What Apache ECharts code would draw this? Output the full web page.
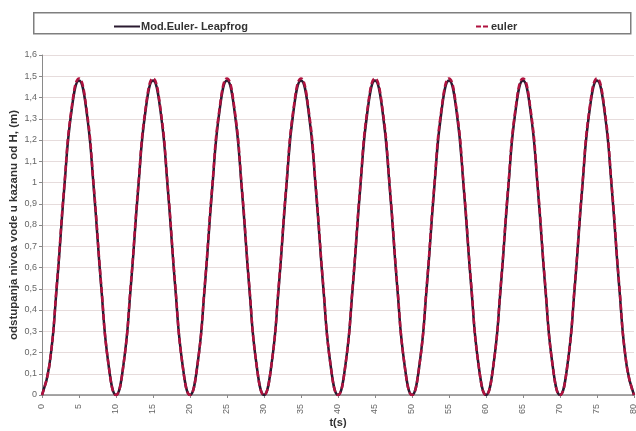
<!DOCTYPE html>
<html>
<head>
<meta charset="utf-8">
<script src="https://cdn.jsdelivr.net/npm/echarts@6/dist/echarts.min.js"></script>
<style>html,body{margin:0;padding:0;background:#fff}#c{width:636px;height:431px}</style>
</head>
<body>
<div id="c"></div>
<script>
var timeS = [0,1,2,3,4,5,6,7,8,9,10,11,12,13,14,15,16,17,18,19,20,21,22,23,24,25,26,27,28,29,30,31,32,33,34,35,36,37,38,39,40,41,42,43,44,45,46,47,48,49,50,51,52,53,54,55,56,57,58,59,60,61,62,63,64,65,66,67,68,69,70,71,72,73,74,75,76,77,78,79,80];
var modEulerLeapfrog = [0,0.14,0.51,0.97,1.34,1.48,1.34,0.97,0.51,0.14,
  0,0.14,0.51,0.97,1.34,1.48,1.34,0.97,0.51,0.14,
  0,0.14,0.51,0.97,1.34,1.48,1.34,0.97,0.51,0.14,
  0,0.14,0.51,0.97,1.34,1.48,1.34,0.97,0.51,0.14,
  0,0.14,0.51,0.97,1.34,1.48,1.34,0.97,0.51,0.14,
  0,0.14,0.51,0.97,1.34,1.48,1.34,0.97,0.51,0.14,
  0,0.14,0.51,0.97,1.34,1.48,1.34,0.97,0.51,0.14,
  0,0.14,0.51,0.97,1.34,1.48,1.34,0.97,0.51,0.14,
  0];
var euler = [0,0.14,0.52,0.98,1.35,1.49,1.35,0.98,0.52,0.14,
  0,0.14,0.52,0.98,1.35,1.49,1.35,0.98,0.52,0.14,
  0,0.14,0.52,0.98,1.35,1.49,1.35,0.98,0.52,0.14,
  0,0.14,0.52,0.98,1.35,1.49,1.35,0.98,0.52,0.14,
  0,0.14,0.52,0.98,1.35,1.49,1.35,0.98,0.52,0.14,
  0,0.14,0.52,0.98,1.35,1.49,1.35,0.98,0.52,0.14,
  0,0.14,0.52,0.98,1.35,1.49,1.35,0.98,0.52,0.14,
  0,0.14,0.52,0.98,1.35,1.49,1.35,0.98,0.52,0.14,
  0];
var seriesNames = ['Mod.Euler- Leapfrog', 'euler'];
var xTickLabels = ['0','5','10','15','20','25','30','35','40','45','50','55','60','65','70','75','80'];

function pairs(ys){ return timeS.map(function(t,i){ return [t, ys[i]]; }); }

var chart = echarts.init(document.getElementById('c'), null, {renderer:'canvas'});
chart.setOption({
  animation: false,
  backgroundColor: '#fff',
  textStyle: { fontFamily: 'Liberation Sans, Arial, sans-serif' },
  graphic: [{
    type: 'rect', left: 33, top: 12, shape: { width: 597, height: 21 },
    style: { fill: '#fff', stroke: '#7f7f7f', lineWidth: 1.5 }, z: -1
  }],
  legend: [{
    data: [seriesNames[0]], left: 108, top: 16, itemWidth: 26, itemHeight: 10,
    itemStyle: { opacity: 0 },
    textStyle: { fontSize: 11, fontWeight: 'bold', color: '#333', padding: [0,0,0,-4] }
  },{
    data: [seriesNames[1]], left: 470, top: 16, itemWidth: 14, itemHeight: 10,
    itemStyle: { opacity: 0 },
    lineStyle: { type: [5, 2] },
    textStyle: { fontSize: 11, fontWeight: 'bold', color: '#333', padding: [0,0,0,-4] }
  }],
  grid: { left: 42, right: 2, top: 55, bottom: 36, containLabel: false, outerBoundsMode: 'none' },
  xAxis: {
    type: 'value', min: 0, max: 80, interval: 5,
    name: 't(s)', nameLocation: 'middle', nameGap: 22, nameMoveOverlap: false,
    nameTextStyle: { fontSize: 11, fontWeight: 'bold', color: '#333' },
    axisLine: { lineStyle: { color: '#8a8a8a', width: 1.5 } },
    axisTick: { show: true, length: 3, lineStyle: { color: '#8a8a8a' } },
    splitLine: { show: false },
    axisLabel: { rotate: 90, fontSize: 9, color: '#666', margin: 9,
      formatter: function(v){ return xTickLabels[Math.round(v/5)]; } }
  },
  yAxis: {
    type: 'value', min: 0, max: 1.6, interval: 0.1,
    name: 'odstupanja nivoa vode u kazanu od H, (m)', nameLocation: 'middle', nameGap: 22, nameMoveOverlap: false,
    nameTextStyle: { fontSize: 11.5, fontWeight: 'bold', color: '#333' },
    axisLine: { show: true, lineStyle: { color: '#8a8a8a', width: 1 } },
    axisTick: { show: true, length: 3, lineStyle: { color: '#8a8a8a' } },
    splitLine: { show: true, lineStyle: { color: '#e6dcdc', width: 1 } },
    axisLabel: { fontSize: 9, color: '#666', margin: 5,
      formatter: function(v){ return (Math.round(v*10)/10).toString().replace('.', ','); } }
  },
  series: [{
    name: seriesNames[0], type: 'line', data: pairs(modEulerLeapfrog), smooth: 0.5,
    symbol: 'none', itemStyle: { color: '#2a1a30' },
    lineStyle: { color: '#2a1a30', width: 2.5 }
  },{
    name: seriesNames[1], type: 'line', data: pairs(euler), smooth: 0.5,
    symbol: 'none', itemStyle: { color: '#b0123f' },
    lineStyle: { color: '#b0123f', width: 2.5, type: [6, 3] }
  }]
});
</script>
</body>
</html>
